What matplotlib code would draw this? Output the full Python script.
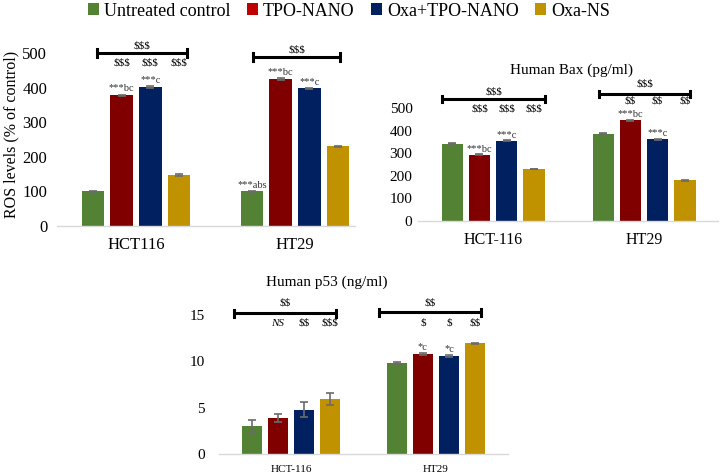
import matplotlib
matplotlib.use("Agg")
import matplotlib.pyplot as plt
from matplotlib.patches import Patch
import numpy as np

plt.rcParams['font.family'] = ['Liberation Serif', 'DejaVu Serif']

series = ["Untreated control", "TPO-NANO", "Oxa+TPO-NANO", "Oxa-NS"]
bar_colors = ["#548235", "#800000", "#002060", "#C09200"]
legend_colors = ["#548235", "#C00000", "#002060", "#C09200"]

# Panel 1: ROS levels
ros_cats = ["HCT116", "HT29"]
ros_vals = [[100, 100], [378, 425], [402, 398], [147, 230]]
ros_err = [[1.5, 1.5], [2, 2], [2, 2], [2.5, 2]]
ros_stars = [["", "***abs"], ["***bc", "***bc"], ["***c", "***c"], ["", ""]]
ros_top = ["$$$", "$$$"]
ros_under = [["", "$$$", "$$$", "$$$"], ["", "", "", ""]]

# Panel 2: Human Bax
bax_cats = ["HCT-116", "HT29"]
bax_vals = [[342, 387], [293, 445], [355, 362], [230, 180]]
bax_err = [[2, 2], [2, 2], [2, 2], [2, 2]]
bax_stars = [["", ""], ["***bc", "***bc"], ["***c", "***c"], ["", ""]]
bax_top = ["$$$", "$$$"]
bax_under = [["", "$$$", "$$$", "$$$"], ["", "$$", "$$", "$$"]]

# Panel 3: Human p53
p53_cats = ["HCT-116", "HT29"]
p53_vals = [[3.0, 9.8], [3.9, 10.8], [4.8, 10.6], [5.9, 11.95]]
p53_err = [[0.65, 0.08], [0.45, 0.1], [0.85, 0.1], [0.65, 0.05]]
p53_stars = [["", ""], ["", "*c"], ["", "*c"], ["", ""]]
p53_top = ["$$", "$$"]
p53_under = [["", "NS", "$$", "$$$"], ["", "$", "$", "$$"]]

STEP = 0.18
WIDTH = 0.142

fig = plt.figure(figsize=(7.21, 4.75), dpi=100)


def esc(s):
    return s.replace("$", r"\$")


def panel(rect, cats, vals, errs, stars, top, under, ylim, yticks, xlim,
          brackets, tick_fs, cat_fs, ypad, under_y, top_y, star_off):
    ax = fig.add_axes(rect)
    x = np.arange(len(cats))
    for i in range(4):
        xs = x + (i - 1.5) * STEP
        ax.bar(xs, vals[i], WIDTH, color=bar_colors[i], yerr=errs[i],
               error_kw=dict(ecolor="#6b6b6b", capsize=3, elinewidth=1.2, capthick=1.2),
               zorder=2)
        for j in range(len(cats)):
            if stars[i][j]:
                ax.text(xs[j], vals[i][j] + errs[i][j] + star_off, stars[i][j],
                        ha="center", va="bottom", fontsize=7.5, color="#333333",
                        clip_on=False)
            if under[j][i]:
                style = "italic" if under[j][i] == "NS" else "normal"
                ax.text(xs[j], under_y[j], esc(under[j][i]), ha="center", va="center",
                        fontsize=8, style=style, clip_on=False)
    cap = (ylim[1] - ylim[0]) * 0.025
    for j, (x0, x1, yb) in enumerate(brackets):
        ax.plot([x0, x1], [yb, yb], color="black", lw=2.2, clip_on=False,
                solid_capstyle="butt")
        ax.plot([x0, x0], [yb - cap, yb + cap], color="black", lw=2.2, clip_on=False)
        ax.plot([x1, x1], [yb - cap, yb + cap], color="black", lw=2.2, clip_on=False)
        ax.text((x0 + x1) / 2, top_y[j], esc(top[j]), ha="center", va="center",
                fontsize=8, clip_on=False)
    ax.set_xlim(*xlim)
    ax.set_ylim(*ylim)
    ax.set_yticks(yticks)
    ax.set_xticks(x)
    ax.set_xticklabels(cats, fontsize=cat_fs)
    ax.tick_params(axis="y", length=0, labelsize=tick_fs, pad=ypad)
    ax.tick_params(axis="x", length=0, pad=8)
    for s in ["top", "right", "left"]:
        ax.spines[s].set_visible(False)
    ax.spines["bottom"].set_color("#D9D9D9")
    ax.spines["bottom"].set_linewidth(1.0)
    ax.patch.set_alpha(0)
    return ax


W, H = 721.0, 475.0

ax1 = panel([57 / W, (H - 226) / H, 298 / W, 173 / H], ros_cats, ros_vals, ros_err,
            ros_stars, ros_top, ros_under, (0, 500), [0, 100, 200, 300, 400, 500],
            (-0.497, 1.377),
            [(-0.245, 0.321, 500), (0.736, 1.283, 488)],
            12, 12, 7, [470, 470], [520, 510], 3)
fig.text(11 / W, 1 - 134 / H, "ROS levels (% of control)", rotation=90,
         ha="center", va="center", fontsize=11.5)

ax2 = panel([418 / W, (H - 221) / H, 300 / W, 113 / H], bax_cats, bax_vals, bax_err,
            bax_stars, bax_top, bax_under, (0, 500), [0, 100, 200, 300, 400, 500],
            (-0.497, 1.49),
            [(-0.338, 0.344, 540), (0.702, 1.305, 562)],
            11, 11.5, 4, [496, 531], [571, 606], 3)

ax3 = panel([219 / W, (H - 454) / H, 289 / W, 139 / H], p53_cats, p53_vals, p53_err,
            p53_stars, p53_top, p53_under, (0, 15), [0, 5, 10, 15],
            (-0.497, 1.497),
            [(-0.393, 0.310, 15.2), (0.607, 1.31, 15.3)],
            11, 8, 10, [14.1, 14.1], [16.3, 16.3], 0.1)

fig.text(571 / W, 1 - 70 / H, "Human Bax (pg/ml)", ha="center", va="center", fontsize=11)
fig.text(327 / W, 1 - 282 / H, "Human p53 (ng/ml)", ha="center", va="center", fontsize=11)

handles = [Patch(facecolor=c, edgecolor="none") for c in legend_colors]
fig.legend(handles, series, loc="center", bbox_to_anchor=(349 / W, 1 - 11 / H),
           ncol=4, frameon=False, fontsize=13, handlelength=0.6, handleheight=0.6,
           handletextpad=0.3, columnspacing=0.9, borderaxespad=0, borderpad=0)

fig.savefig("out.png", dpi=100)
